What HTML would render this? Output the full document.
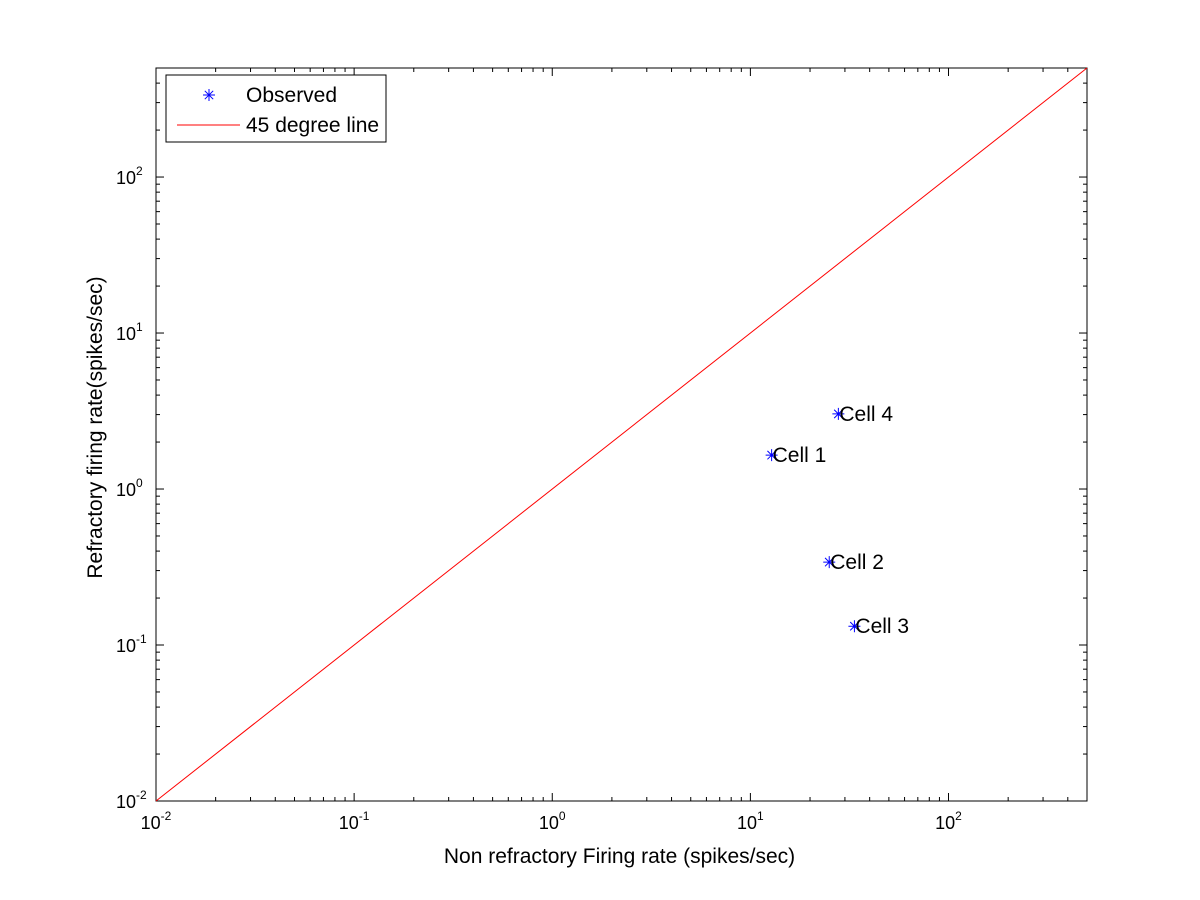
<!DOCTYPE html>
<html><head><meta charset="utf-8"><style>
body{margin:0;background:#fff}
svg{display:block;font-family:"Liberation Sans",sans-serif}
</style></head><body>
<svg id="chart" width="1200" height="900" xmlns="http://www.w3.org/2000/svg">
<rect width="1200" height="900" fill="#fff"/>
<g id="plot"></g>
</svg>
<script>
const cellLabels=["Cell 1","Cell 2","Cell 3","Cell 4"];
const nonRefractoryRate=[12.8,25,33.5,27.8];
const refractoryRate=[1.65,0.34,0.132,3.03];
const xTickExps=[-2,-1,0,1,2];
const yTickExps=[-2,-1,0,1,2];
const xDomain=[0.01,500], yDomain=[0.01,500];

const L=156,R=1087,T=68,B=801;
const xs=v=>L+(Math.log10(v)-Math.log10(xDomain[0]))/(Math.log10(xDomain[1])-Math.log10(xDomain[0]))*(R-L);
const ys=v=>B-(Math.log10(v)-Math.log10(yDomain[0]))/(Math.log10(yDomain[1])-Math.log10(yDomain[0]))*(B-T);
const NS="http://www.w3.org/2000/svg";
const g=document.getElementById('plot');
function mk(t,a,p){const e=document.createElementNS(NS,t);for(const k in a)e.setAttribute(k,a[k]);(p||g).appendChild(e);return e;}

const frame=mk('rect',{x:L,y:T,width:R-L,height:B-T,fill:'none',stroke:'#000','stroke-width':1});



for(let e=-2;e<=2;e++){for(let m=1;m<10;m++){const v=m*Math.pow(10,e);
 if(v<=xDomain[1]){const x=xs(v),len=m==1?8:4;
  const t1=mk('line',{x1:x,y1:B,x2:x,y2:B-len,stroke:'#000'});
  const t2=mk('line',{x1:x,y1:T,x2:x,y2:T+len,stroke:'#000'});}
 if(v<=yDomain[1]){const y=ys(v),len=m==1?8:4;
  const t3=mk('line',{x1:L,y1:y,x2:L+len,y2:y,stroke:'#000'});
  const t4=mk('line',{x1:R,y1:y,x2:R-len,y2:y,stroke:'#000'});}
}}
xTickExps.forEach(e=>{const x=xs(Math.pow(10,e));
 const t=mk('text',{x:x,y:B+28,'font-size':18,'text-anchor':'middle'});
 t.innerHTML='10<tspan dy="-9" font-size="12">'+e+'</tspan>';});
yTickExps.forEach(e=>{const y=ys(Math.pow(10,e));
 const t=mk('text',{x:L-40,y:y+7,'font-size':18,'text-anchor':'start'});
 t.innerHTML='10<tspan dy="-9" font-size="12">'+e+'</tspan>';});

const ln=mk('line',{x1:xs(xDomain[0]),y1:ys(xDomain[0]),x2:xs(xDomain[1]),y2:ys(xDomain[1]),stroke:'#f00','stroke-width':1});



function star(cx,cy,p,s){const d=`M${cx-s},${cy}H${cx+s}M${cx},${cy-s}V${cy+s}M${cx-s*.7},${cy-s*.7}L${cx+s*.7},${cy+s*.7}M${cx-s*.7},${cy+s*.7}L${cx+s*.7},${cy-s*.7}`;
 return mk('path',{d:d,stroke:'#00f','stroke-width':1,fill:'none'},p);}
nonRefractoryRate.forEach((v,i)=>{const x=xs(v),y=ys(refractoryRate[i]);
 const s=star(x,y,g,6);
 const t=mk('text',{x:x+1,y:y+7,'font-size':21});t.textContent=cellLabels[i];
 });

const lg=mk('g',{});
mk('rect',{x:166,y:75,width:220,height:67,fill:'#fff',stroke:'#000'},lg);
const ls=star(209,95,lg,6);
const lt1=mk('text',{x:246,y:102,'font-size':21},lg);lt1.textContent='Observed';
const ll=mk('line',{x1:177,y1:125,x2:240,y2:125,stroke:'#f00'},lg);
const lt2=mk('text',{x:246,y:132,'font-size':21},lg);lt2.textContent='45 degree line';

const xt=mk('text',{x:(L+R)/2-2,y:863,'font-size':21,'text-anchor':'middle'});xt.textContent='Non refractory Firing rate (spikes/sec)';

const yt=mk('text',{x:0,y:0,'font-size':21,'text-anchor':'middle',transform:`translate(102,${(T+B)/2-7}) rotate(-90)`});yt.textContent='Refractory firing rate(spikes/sec)';

</script>
</body></html>
